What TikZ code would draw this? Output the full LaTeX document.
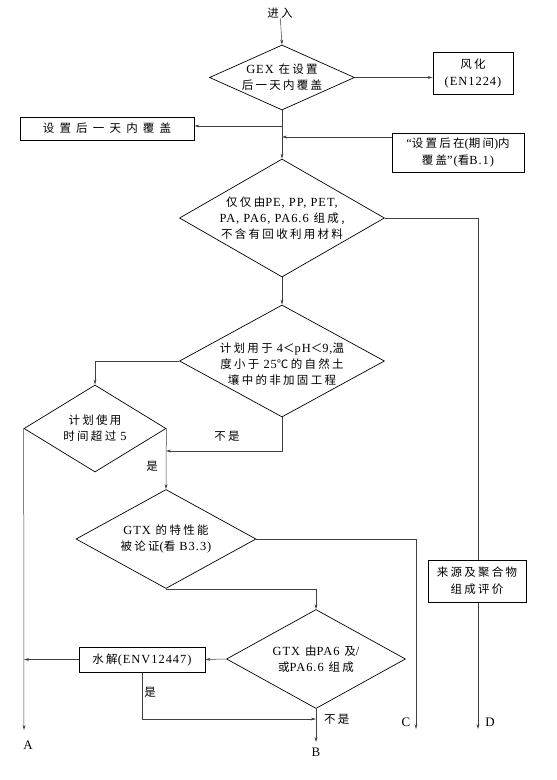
\documentclass[tikz,border=0pt]{standalone}
\usepackage{fontspec}
\setmainfont{Noto Sans CJK SC}[LetterSpace=20]
\newfontfamily\latfont{Liberation Serif}[Scale=1.08, LetterSpace=8]
\newfontfamily\widecjk{Noto Sans CJK SC}[LetterSpace=45]
\newcommand\latn[1]{{\latfont #1}}
\usetikzlibrary{shapes.geometric,arrows.meta,backgrounds}
\begin{document}
\begin{tikzpicture}[x=1pt,y=-1pt,
  txt/.style={inner sep=0pt, align=center, font=\fontsize{11.5}{16}\selectfont},
  box/.style={draw, line width=0.8pt, fill=white, inner sep=0pt, align=center, font=\fontsize{11.5}{17}\selectfont},
  dia/.style={draw, diamond, line width=0.7pt, inner sep=0pt},
  lab/.style={inner sep=0pt, font=\fontsize{11.5}{14}\selectfont},
  latlab/.style={inner sep=0pt, font=\latfont\fontsize{12}{14}\selectfont},
  con/.style={line width=0.5pt, draw=black!75},
  arr/.style={con, -{Stealth[length=5pt,width=2.8pt]}}]
\path[use as bounding box] (0,0) rectangle (557,780);

% nodes
\node[txt] (entry) at (280,13) {进入};
\node[dia, minimum width=145, minimum height=65] (d1) at (282,77.5) {};
\node[txt] (t1) at (d1) {\latn{GEX} 在设置\\后一天内覆盖};
\node[box, minimum width=80, minimum height=42] (fh) at (473,73) {风化\\\latn{(EN1224)}};
\node[box, minimum width=174, minimum height=23, font=\widecjk\fontsize{11.5}{17}\selectfont] (b1) at (107,128.5) {设置后一天内覆盖};
\node[box, minimum width=132, minimum height=39] (b2) at (458,152.5) {\latn{“}设置后在\latn{(}期间\latn{)}内\\覆盖\latn{”(}看\latn{B.1)}};
\node[dia, minimum width=205, minimum height=118] (d2) at (282,218) {};
\node[txt] (t2) at (d2) {仅仅由\latn{PE, PP, PET,}\\\latn{PA, PA6, PA6.6} 组成,\\不含有回收利用材料};
\node[dia, minimum width=205, minimum height=112] (d3) at (282,361) {};
\node[txt] (t3) at ([yshift=-3]d3.center) {计划用于\latn{ 4}＜\latn{pH}＜\latn{9,}温\\度小于\latn{ 25}℃的自然土\\壤中的非加固工程};
\node[dia, minimum width=142, minimum height=87] (d4) at (95,428.5) {};
\node[txt] (t4) at (d4) {计划使用\\时间超过\latn{ 5}};
\node[dia, minimum width=180, minimum height=99] (d5) at (166,539) {};
\node[txt] (t5) at (d5) {\latn{GTX} 的特性能\\被论证\latn{(}看\latn{ B3.3)}};
\node[dia, minimum width=179, minimum height=99] (d6) at (316,659) {};
\node[txt] (t6) at (d6) {\latn{GTX} 由\latn{PA6} 及\latn{/}\\或\latn{PA6.6} 组成};
\node[box, minimum width=126, minimum height=25] (hy) at (142,659.5) {水解\latn{(ENV12447)}};
\node[box, minimum width=98, minimum height=42] (src) at (477,581) {来源及聚合物\\组成评价};

% coordinates
\coordinate (j1) at (282,126);
\coordinate (j2) at (282,137);
\coordinate (j3) at (166,451);
\coordinate (j5) at (316,719);
\coordinate (cA) at (24,730);
\coordinate (cB) at (316,742);
\coordinate (cC) at (416,729);
\coordinate (cD) at (478,729);

% labels
\node[lab] (n1) at (227,436) {不是};
\node[lab] (y1) at (152,466) {是};
\node[lab] (y2) at (150,692) {是};
\node[lab, anchor=west] (n2) at (324,719) {不是};
\node[latlab] (lA) at (28,745) {A};
\node[latlab] (lB) at (316,752) {B};
\node[latlab] (lC) at (406,722) {C};
\node[latlab] (lD) at (490,722) {D};

% connectors
\begin{scope}[on background layer]
\fill[white] (0,0) rectangle (557,780);
\draw[arr] (entry) -- (d1.north);
\draw[arr] (d1.east) -- (d1.east -| fh.west);
\draw[arr] (d1.south) -- (d2.north);
\draw[arr] (j1) -- (j1 -| b1.east);
\draw[arr] (j2 -| b2.west) -- (j2);
\draw[arr] (d2.east) -| (cD);
\draw[arr] (d2.south) -- (d3.north);
\draw[arr] (d3.west) -| (d4.north);
\draw[arr] (d3.south) |- (j3);
\draw[arr] (d4.east) -- (d5.north);
\draw[arr] (d4.west) -- (cA);
\draw[arr] (d5.east) -| (cC);
\draw[arr] (d5.south) -| (d6.north);
\draw[arr] (d6.west) -- (hy.east);
\draw[arr] (hy.west) -- (hy.west -| cA);
\draw[arr] (hy.south) |- (j5);
\draw[arr] (d6.south) -- (cB);
\end{scope}
\end{tikzpicture}
\end{document}
